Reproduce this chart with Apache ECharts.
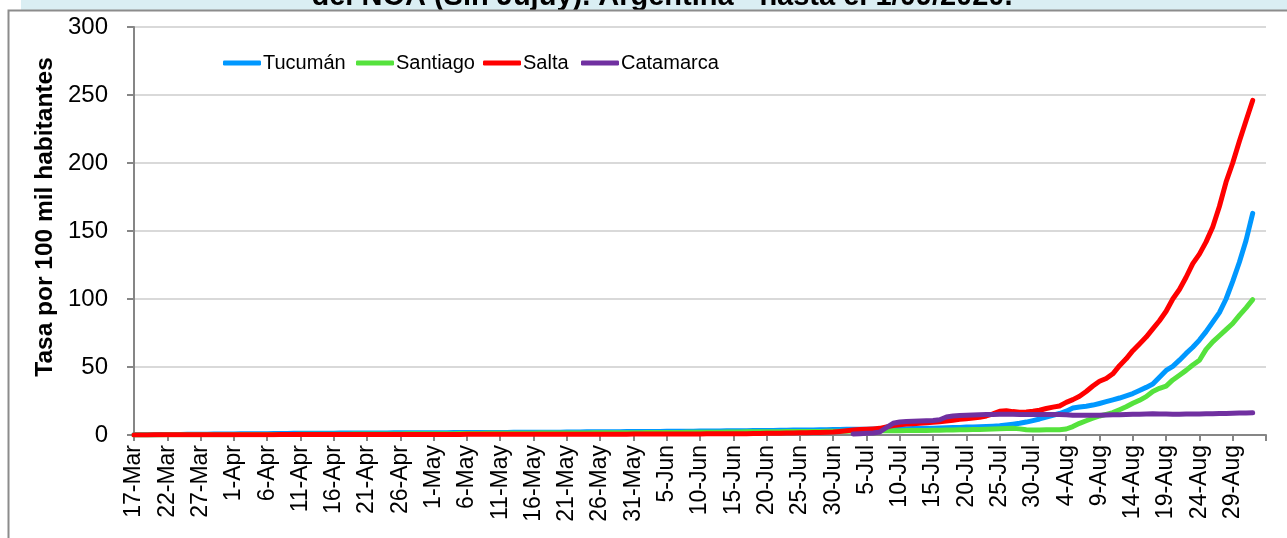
<!DOCTYPE html>
<html>
<head>
<meta charset="utf-8">
<script src="https://cdn.jsdelivr.net/npm/echarts@6/dist/echarts.min.js"></script>
<style>html,body{margin:0;padding:0;background:#fff}#c{width:1287px;height:538px}</style>
</head>
<body>
<div id="c"></div>
<script>
// Category range (daily), first date 17-Mar-2020, last axis date 3-Sep-2020
const firstDate = [2020, 2, 17];
const lastDate = [2020, 8, 3];
const monthNames = ['Jan','Feb','Mar','Apr','May','Jun','Jul','Aug','Sep','Oct','Nov','Dec'];

const seriesNames = ['Tucumán', 'Santiago', 'Salta', 'Catamarca'];
const titleText = 'del NOA (Sin Jujuy). Argentina - hasta el 1/09/2020.';
const yAxisTitle = 'Tasa por 100 mil habitantes';
const yTicks = [0, 50, 100, 150, 200, 250, 300];

// daily values from 17-Mar to 1-Sep
const tucuman = [
 0.1,0.1,0.2,0.2,0.3,0.3,0.4,0.4,0.5,0.5,0.6,0.6,0.7,0.7,0.8,
 0.8,0.9,0.9,1.0,1.0,1.0,1.1,1.1,1.1,1.2,1.2,1.2,1.3,1.3,1.3,1.3,1.4,1.4,1.4,1.4,1.5,1.5,1.5,1.5,1.6,1.6,1.6,1.6,1.7,1.7,
 1.7,1.7,1.7,1.8,1.8,1.8,1.8,1.8,1.9,1.9,1.9,1.9,2.0,2.0,2.0,2.0,2.1,2.1,2.1,2.1,2.2,2.2,2.2,2.3,2.3,2.3,2.4,2.4,2.4,2.5,2.5,
 2.5,2.6,2.6,2.6,2.7,2.7,2.8,2.8,2.8,2.9,2.9,3.0,3.0,3.1,3.1,3.2,3.2,3.3,3.3,3.4,3.4,3.5,3.5,3.6,3.6,3.7,3.7,3.8,3.9,4.0,
 4.1,4.2,4.2,4.3,4.3,4.4,4.4,4.5,4.5,4.6,4.6,4.7,4.8,4.9,5.0,5.2,5.3,5.5,5.6,5.8,5.9,6.1,6.3,6.5,6.8,7.3,7.9,8.6,9.5,10.6,11.8,
 13.2,14.5,15.8,17.5,19.8,20.6,21.2,22.0,23.2,24.5,25.8,27.2,28.8,30.5,32.8,35.0,37.5,42.5,47.5,50.5,55.0,60.0,64.5,69.8,76.0,83.0,90.0,100.0,113.0,127.0,143.0,
 163.0
];
const santiago = [
 0.0,0.0,0.0,0.0,0.0,0.1,0.1,0.1,0.1,0.1,0.1,0.2,0.2,0.2,0.2,
 0.2,0.3,0.3,0.3,0.3,0.3,0.4,0.4,0.4,0.4,0.5,0.5,0.5,0.5,0.6,0.6,0.6,0.6,0.7,0.7,0.7,0.7,0.8,0.8,0.8,0.8,0.9,0.9,0.9,0.9,
 1.0,1.0,1.0,1.0,1.1,1.1,1.1,1.1,1.2,1.2,1.2,1.2,1.3,1.3,1.3,1.3,1.4,1.4,1.4,1.4,1.5,1.5,1.5,1.5,1.6,1.6,1.6,1.6,1.7,1.7,1.7,
 1.7,1.8,1.8,1.8,1.9,1.9,1.9,2.0,2.0,2.0,2.1,2.1,2.1,2.2,2.2,2.2,2.3,2.3,2.3,2.4,2.4,2.4,2.5,2.5,2.5,2.6,2.6,2.6,2.7,2.7,
 2.8,2.8,2.9,2.9,3.0,3.0,3.1,3.1,3.2,3.2,3.3,3.3,3.4,3.4,3.5,3.5,3.6,3.7,3.8,3.9,4.0,4.1,4.2,4.4,4.6,4.8,4.9,4.5,3.8,3.7,3.7,
 3.8,3.9,3.9,4.4,6.2,8.6,10.5,12.3,14.0,15.2,16.5,18.6,20.8,23.3,25.5,28.2,32.0,34.3,36.0,40.5,44.0,47.5,51.5,55.0,63.0,68.5,73.0,77.5,82.0,88.0,93.5,
 99.5
];
const salta = [
 0.0,0.0,0.0,0.1,0.1,0.1,0.1,0.1,0.1,0.1,0.1,0.1,0.1,0.2,0.2,
 0.2,0.2,0.2,0.2,0.2,0.2,0.2,0.3,0.3,0.3,0.3,0.3,0.3,0.3,0.3,0.3,0.3,0.3,0.3,0.3,0.4,0.4,0.4,0.4,0.4,0.4,0.4,0.4,0.4,0.4,
 0.4,0.4,0.4,0.4,0.4,0.5,0.5,0.5,0.5,0.5,0.5,0.5,0.5,0.5,0.5,0.5,0.5,0.5,0.5,0.5,0.6,0.6,0.6,0.6,0.6,0.6,0.6,0.6,0.6,0.6,0.7,
 0.7,0.7,0.7,0.7,0.7,0.8,0.8,0.8,0.8,0.8,0.9,0.9,0.9,0.9,1.0,1.0,1.0,1.1,1.1,1.2,1.2,1.3,1.4,1.5,1.6,1.7,1.8,1.9,2.0,2.2,
 2.6,3.1,3.6,4.0,4.2,4.5,4.9,6.0,7.0,7.6,8.0,8.3,8.6,9.0,9.4,9.8,10.3,10.9,11.5,12.0,12.5,13.0,14.0,15.5,17.5,17.9,17.2,16.8,17.0,17.5,18.2,
 19.5,20.5,21.3,24.0,26.0,28.5,32.0,36.0,39.5,41.5,45.0,51.0,56.0,62.0,67.0,72.0,78.0,84.0,91.0,100.0,107.0,116.0,126.0,133.0,142.0,153.0,168.0,186.0,200.0,216.0,231.0,
 246.0
];
// Catamarca starts on 3-Jul
const catamarcaStart = '3-Jul';
const catamarca = [
 0.8,1.0,1.2,1.5,2.2,5.5,8.6,9.6,10.0,10.2,10.3,10.5,10.7,11.2,13.2,14.0,14.3,14.5,14.7,14.9,15.0,15.1,15.2,15.2,15.2,15.1,15.0,15.0,15.0,
 15.0,15.0,15.0,14.8,14.6,14.5,14.5,14.5,14.6,14.7,14.8,14.9,15.0,15.2,15.3,15.4,15.6,15.5,15.4,15.3,15.3,15.4,15.5,15.5,15.6,15.7,15.8,15.9,16.0,16.1,16.2,
 16.3
];

const colors = ['#0098FF', '#55E23D', '#FF0000', '#7030A0'];
const FONT = 'Liberation Sans';

// build category labels
const categories = [];
{
  let d = new Date(Date.UTC(firstDate[0], firstDate[1], firstDate[2]));
  const end = new Date(Date.UTC(lastDate[0], lastDate[1], lastDate[2]));
  while (d <= end) {
    categories.push(d.getUTCDate() + '-' + monthNames[d.getUTCMonth()]);
    d = new Date(d.getTime() + 86400000);
  }
}
const lastLabelIdx = categories.length - 1;

function toSeriesData(vals, startCat) {
  const start = startCat ? categories.indexOf(startCat) : 0;
  const out = [];
  for (let i = 0; i < vals.length; i++) out.push([categories[start + i], vals[i]]);
  return out;
}
const allVals = [tucuman, santiago, salta, catamarca];
const starts = [null, null, null, catamarcaStart];

const legendLefts = [223, 356, 483, 581];

const chart = echarts.init(document.getElementById('c'), null, {renderer: 'canvas'});
chart.setOption({
  animation: false,
  backgroundColor: '#ffffff',
  color: colors,
  graphic: [
    {type: 'rect', z: -30, silent: true, shape: {x: 21, y: 0, width: 1300, height: 11}, style: {fill: '#DAEEF3'}},
    {type: 'text', z: -20, silent: true, x: 662, y: -3,
      style: {text: titleText, font: 'bold 29px "' + FONT + '"', fill: '#000', align: 'center', verticalAlign: 'middle'}},
    {type: 'rect', z: -10, silent: true, shape: {x: 8.5, y: 10.5, width: 1400, height: 700},
      style: {fill: '#ffffff', stroke: '#8C8C8C', lineWidth: 2}},
    {type: 'text', z: 5, silent: true, x: 45, y: 217, rotation: Math.PI / 2,
      style: {text: yAxisTitle, font: 'bold 24.5px "' + FONT + '"', fill: '#000', align: 'center', verticalAlign: 'middle'}}
  ],
  legend: seriesNames.map((n, i) => ({
    data: [n], left: legendLefts[i], top: 53, padding: 0,
    icon: 'roundRect', itemWidth: 38, itemHeight: 5, itemGap: 0,
    textStyle: {fontFamily: FONT, fontSize: 20, color: '#000', padding: [0, 0, 0, -3]}
  })),
  grid: {left: 134, right: 21, top: 27, bottom: 103, containLabel: false},
  xAxis: {
    type: 'category', data: categories, boundaryGap: false,
    axisLine: {lineStyle: {color: '#868686', width: 2}},
    axisTick: {show: true, length: 6, interval: (i) => i % 5 === 0, lineStyle: {color: '#868686', width: 2}},
    axisLabel: {interval: (i) => i % 5 === 0 && i < lastLabelIdx, rotate: 90, margin: 10,
      hideOverlap: false, overflow: 'none', showMaxLabel: true, width: 200,
      fontFamily: FONT, fontSize: 23, color: '#000'},
    splitLine: {show: false}
  },
  yAxis: {
    type: 'value', min: yTicks[0], max: yTicks[yTicks.length - 1], interval: 50,
    axisLine: {show: true, lineStyle: {color: '#868686', width: 2}},
    axisTick: {show: true, length: 7, lineStyle: {color: '#868686', width: 2}},
    axisLabel: {margin: 26, fontFamily: FONT, fontSize: 24, color: '#000'},
    splitLine: {lineStyle: {color: '#D9D9D9', width: 2}}
  },
  series: seriesNames.map((n, i) => ({
    name: n, type: 'line', showSymbol: false, symbol: 'none',
    data: toSeriesData(allVals[i], starts[i]),
    lineStyle: {width: 5, color: colors[i], cap: 'round', join: 'round'},
    itemStyle: {color: colors[i]},
    z: 2 + i
  }))
});
</script>
</body>
</html>
